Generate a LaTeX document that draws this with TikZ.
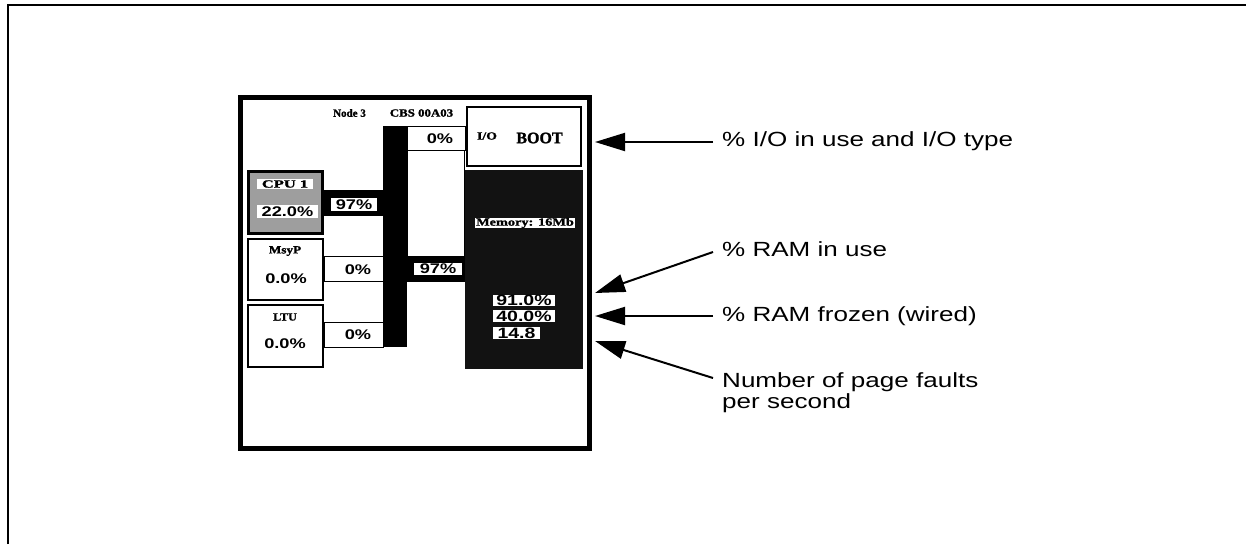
\documentclass[tikz,border=0pt]{standalone}
\usepackage{fontspec}
\setmainfont{Liberation Serif}
\setsansfont{Liberation Sans}
% heavier serif for the bitmap-like screen labels
\newfontfamily\screenserif[BoldFeatures={FakeBold=1.3}]{Liberation Serif}
\usetikzlibrary{arrows.meta}
% horizontal stretch for the wide screen fonts
\newcommand\hs[2]{\scalebox{#1}[1]{#2}}
\begin{document}
\begin{tikzpicture}[x=1pt,y=-1pt,
  screenfont/.style={font=\screenserif\bfseries\fontsize{11}{12}\selectfont, inner sep=0pt},
  numfont/.style={font=\sffamily\bfseries\fontsize{14}{15}\selectfont, inner sep=0pt},
  valfont/.style={font=\sffamily\bfseries\fontsize{15}{16}\selectfont, inner sep=0pt},
  whitetag/.style={fill=white},
  linkbox/.style={draw, line width=1pt, fill=white},
  modbox/.style={draw, line width=2pt, fill=white},
  callout/.style={line width=2pt, -{Triangle[length=30pt,width=18pt]}},
  note/.style={font=\sffamily\fontsize{20.5}{21.5}\selectfont, anchor=base west, inner sep=0pt},
]
\useasboundingbox (0,0) rectangle (1246,544);

% page frame: top and left edges
\draw[line width=1.5pt] (8,544) -- (8,5) -- (1246,5);

% screen window
\draw[line width=4.5pt] (240.5,97.5) rectangle (589.5,448.5);

% header
\node[screenfont] (hdrnode) at (349.5,113) {\hs{1.0}{Node 3}};
\node[screenfont] (hdrcbs) at (421.5,113) {\hs{1.17}{CBS 00A03}};

% system bus and link bars
\fill (383,126) rectangle (407,347);
\fill (323,190) rectangle (383,216);
\fill (407,256) rectangle (466,282);

% I/O link
\draw[linkbox] (407,150) rectangle (464,256);
\draw[linkbox] (407,126) rectangle (465,150);
\node[numfont] (iolink) at (440,138.5) {\hs{1.3}{0\%}};

% I/O module
\draw[modbox] (467,107) rectangle (581,166);
\node[screenfont] (iotype) at (487,136) {\hs{1.25}{I/O}};
\node[font=\screenserif\bfseries\fontsize{16}{17}\selectfont, inner sep=0pt] (boot) at (539.5,138) {BOOT};

% CPU module
\draw[line width=3pt, fill=black!38] (248,171.5) rectangle (322.5,233.5);
\node[screenfont, whitetag, minimum width=56pt, minimum height=10pt] (cpuname) at (285,184) {\hs{1.5}{CPU 1}};
\node[numfont, whitetag, minimum width=61pt, minimum height=13pt] (cpuload) at (287.5,211.5) {\hs{1.3}{22.0\%}};
\node[numfont, whitetag, minimum width=46pt, minimum height=13pt] (cpulink) at (354,204.5) {\hs{1.3}{97\%}};

% MsyP module
\draw[modbox] (248,239) rectangle (323,299.5);
\node[screenfont] (mpname) at (285,251) {\hs{1.2}{MsyP}};
\node[numfont] (mpload) at (286,279) {\hs{1.3}{0.0\%}};
\draw[linkbox] (324,256) rectangle (383,281);
\node[numfont] (mplink) at (358,269.5) {\hs{1.3}{0\%}};

% LTU module
\draw[modbox] (248,305) rectangle (323,367);
\node[screenfont] (ltuname) at (285,317) {\hs{1.1}{LTU}};
\node[numfont] (ltuload) at (285,344) {\hs{1.3}{0.0\%}};
\draw[linkbox] (324,322) rectangle (383,347);
\node[numfont] (ltulink) at (358,335) {\hs{1.3}{0\%}};

% memory module
\fill[black!93] (465,170) rectangle (583,369);
\node[numfont, whitetag, minimum width=48pt, minimum height=12pt] (memlink) at (438,269) {\hs{1.3}{97\%}};
\node[screenfont, whitetag, minimum width=100pt, minimum height=10pt] (memsize) at (525,223) {\hs{1.3}{Memory: 16Mb}};
\node[valfont, whitetag, minimum width=62pt, minimum height=11pt] (ramuse) at (524,300.5) {\hs{1.3}{91.0\%}};
\node[valfont, whitetag, minimum width=62pt, minimum height=12pt] (ramwired) at (524,316) {\hs{1.3}{40.0\%}};
\node[valfont, whitetag, minimum width=47pt, minimum height=12pt] (faults) at (516.5,333) {\hs{1.3}{14.8}};

% callouts
\node[note] (lab1) at (722,146.7) {\hs{1.27}{\% I/O in use and I/O type}};
\node[note] (lab2) at (722,256) {\hs{1.27}{\% RAM in use}};
\node[note] (lab3) at (722,321) {\hs{1.27}{\% RAM frozen (wired)}};
\node[note] (lab4) at (722,387) {\hs{1.27}{\begin{tabular}[t]{@{}l@{}}Number of page faults\\per second\end{tabular}}};

\coordinate (tip1) at (595,142);
\coordinate (tip2) at (595,293);
\coordinate (tip3) at (595,316);
\coordinate (tip4) at (595,341);

\draw[callout] ([shift={(-9pt,4.7pt)}]lab1.base west) -- (tip1);
\draw[callout] ([shift={(-9pt,4pt)}]lab2.base west) -- (tip2);
\draw[callout] ([shift={(-9pt,5pt)}]lab3.base west) -- (tip3);
\draw[callout] ([shift={(-9pt,9pt)}]lab4.base west) -- (tip4);
\end{tikzpicture}
\end{document}
